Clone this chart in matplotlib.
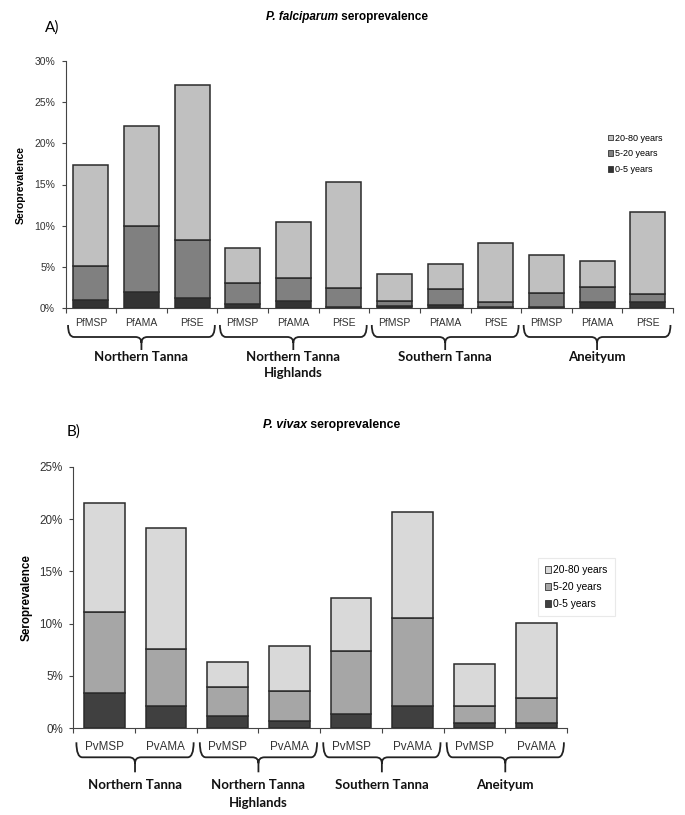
import matplotlib
matplotlib.use('Agg')
import matplotlib.pyplot as plt
from matplotlib.path import Path
from matplotlib.patches import PathPatch, Patch
import numpy as np

plt.rcParams['font.family'] = ['Liberation Sans', 'DejaVu Sans']

# --- data (seroprevalence %, stacked segments per age group) ---
groups = ['Northern Tanna', 'Northern Tanna\nHighlands', 'Southern Tanna', 'Aneityum']
ages = ['0-5 years', '5-20 years', '20-80 years']

pf_antigens = ['PfMSP', 'PfAMA', 'PfSE']
pf_0_5 = [1.0, 1.9, 1.2, 0.5, 0.8, 0.1, 0.25, 0.4, 0.1, 0.1, 0.7, 0.7]
pf_5_20 = [4.1, 8.1, 7.0, 2.5, 2.8, 2.3, 0.65, 1.9, 0.6, 1.7, 1.8, 1.0]
pf_20_80 = [12.3, 12.1, 18.9, 4.3, 6.8, 12.9, 3.2, 3.0, 7.2, 4.6, 3.2, 10.0]

pv_antigens = ['PvMSP', 'PvAMA']
pv_0_5 = [3.4, 2.1, 1.15, 0.7, 1.35, 2.1, 0.5, 0.5]
pv_5_20 = [7.7, 5.5, 2.75, 2.9, 6.0, 8.45, 1.65, 2.4]
pv_20_80 = [10.4, 11.5, 2.4, 4.3, 5.1, 10.15, 3.95, 7.15]

pf_colors = ['#333333', '#808080', '#c0c0c0']
pv_colors = ['#404040', '#a6a6a6', '#d9d9d9']

W, H = 685, 815
fig = plt.figure(figsize=(W / 100, H / 100), dpi=100)


def px_axes(left, right, top, bottom):
    return [left / W, 1 - bottom / H, (right - left) / W, (bottom - top) / H]


def draw_brace(ax, x0, x1, top_px, mid_px, tip_px, r_px):
    trans = ax.get_xaxis_transform()
    h = ax.bbox.height
    lo, hi = ax.get_xlim()
    ppu = ax.bbox.width / (hi - lo)
    yt, ym, yp = -top_px / h, -mid_px / h, -tip_px / h
    rx, ry = r_px / ppu, r_px / h
    xc = (x0 + x1) / 2
    verts = [(x0, yt), (x0, ym), (x0 + rx, ym), (xc - rx, ym), (xc, ym), (xc, ym - ry),
             (xc, yp), (xc, ym - ry), (xc, ym), (xc + rx, ym), (x1 - rx, ym), (x1, ym), (x1, yt)]
    codes = [Path.MOVETO, Path.CURVE3, Path.CURVE3, Path.LINETO, Path.CURVE3, Path.CURVE3,
             Path.LINETO, Path.MOVETO, Path.CURVE3, Path.CURVE3, Path.LINETO, Path.CURVE3, Path.CURVE3]
    ax.add_patch(PathPatch(Path(verts, codes), transform=trans, fill=False,
                           edgecolor='#222222', lw=1.3, clip_on=False))


def panel(rect, antigens, segs, colors, ymax, width, fs, brace, label_top, lab_pad, lsp):
    ax = fig.add_axes(rect)
    n = len(groups) * len(antigens)
    x = np.arange(n)
    bottom = np.zeros(n)
    for seg, c in zip(segs, colors):
        ax.bar(x, seg, width, bottom=bottom, color=c, edgecolor='#2b2b2b', lw=1.1, zorder=2)
        bottom += np.array(seg)
    ax.set_xlim(-0.5, n - 0.5)
    ax.set_ylim(0, ymax)
    ax.set_yticks(np.arange(0, ymax + 1, 5))
    ax.set_yticklabels([f'{v}%' for v in range(0, ymax + 1, 5)])
    ax.set_xticks(np.arange(-0.5, n, 1))
    ax.set_xticklabels([])
    ax.set_xticks(x, minor=True)
    ax.set_xticklabels(antigens * len(groups), minor=True)
    ax.tick_params(axis='x', which='minor', length=0, pad=lab_pad, labelsize=fs, labelcolor='#333333')
    ax.tick_params(axis='x', which='major', length=3.5, color='#444444')
    ax.tick_params(axis='y', length=3, pad=4.5, labelsize=fs, labelcolor='#333333', color='#444444')
    for s in ['top', 'right']:
        ax.spines[s].set_visible(False)
    for s in ['left', 'bottom']:
        ax.spines[s].set_color('#444444')
    k = len(antigens)
    for g, name in enumerate(groups):
        x0, x1 = g * k - 0.5 + 0.05, g * k + k - 0.5 - 0.05
        draw_brace(ax, x0, x1, *brace)
        ax.annotate(name, xy=((x0 + x1) / 2, 0), xycoords=ax.get_xaxis_transform(),
                    xytext=(0, -label_top), textcoords='offset pixels', ha='center', va='top',
                    family=['Lato', 'DejaVu Sans'], weight='bold', fontsize=9.5,
                    linespacing=lsp, color='#111111')
    return ax


segs_pf = [pf_0_5, pf_5_20, pf_20_80]
ax1 = panel(px_axes(65.5, 673, 61, 308), pf_antigens, segs_pf, pf_colors, 30, 0.69, 7.5,
            (17, 29, 42, 6), 43, 7, 1.35)
ax1.set_ylabel('Seroprevalence', fontsize=7.6, weight='bold', labelpad=6)
h1 = [Patch(facecolor=pf_colors[i], edgecolor='#333333', lw=0.6) for i in (2, 1, 0)]
ax1.legend(h1, ages[::-1], loc='upper left', bbox_to_anchor=(604 / W, 1 - 130 / H),
           bbox_transform=fig.transFigure, frameon=False, fontsize=6.5,
           handlelength=0.6, handleheight=0.6, handletextpad=0.2, labelspacing=0.75,
           borderaxespad=0)

segs_pv = [pv_0_5, pv_5_20, pv_20_80]
ax2 = panel(px_axes(73.3, 567, 466.7, 728.3), pv_antigens, segs_pv, pv_colors, 25, 0.66, 8.4,
            (14, 29, 44, 6), 51, 9, 1.55)
ax2.set_ylabel('Seroprevalence', fontsize=8.4, weight='bold', labelpad=5)
h2 = [Patch(facecolor=pv_colors[i], edgecolor='#333333', lw=0.6) for i in (2, 1, 0)]
leg = ax2.legend(h2, ages[::-1], loc='upper left', bbox_to_anchor=(538 / W, 1 - 557.7 / H),
                 bbox_transform=fig.transFigure, frameon=True, fancybox=False, fontsize=7.4,
                 handlelength=0.6, handleheight=0.6, handletextpad=0.2, labelspacing=0.7,
                 borderaxespad=0, borderpad=0.7)
leg.get_frame().set_edgecolor('#e4e4e4')
leg.get_frame().set_linewidth(0.8)

# titles and panel letters
fig.text(338 / W, 1 - 17 / H, 'P. falciparum', style='italic', weight='bold', fontsize=8.5,
         ha='right', va='center')
fig.text(338 / W, 1 - 17 / H, ' seroprevalence', weight='bold', fontsize=8.5,
         ha='left', va='center')
fig.text(45 / W, 1 - 28 / H, 'A)', fontsize=11, ha='left', va='center',
         family=['Lato', 'DejaVu Sans'])
fig.text(307 / W, 1 - 425 / H, 'P. vivax', style='italic', weight='bold', fontsize=8.8,
         ha='right', va='center')
fig.text(307 / W, 1 - 425 / H, ' seroprevalence', weight='bold', fontsize=8.8,
         ha='left', va='center')
fig.text(67 / W, 1 - 432 / H, 'B)', fontsize=11, ha='left', va='center',
         family=['Lato', 'DejaVu Sans'])

fig.savefig('out.png', dpi=100, facecolor='white')
